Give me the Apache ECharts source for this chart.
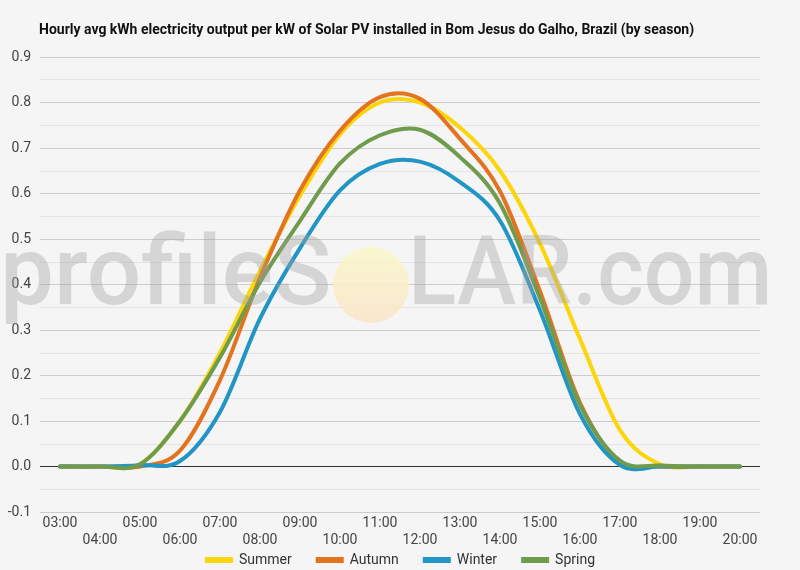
<!DOCTYPE html>
<html>
<head>
<meta charset="utf-8">
<script src="https://cdn.jsdelivr.net/npm/echarts@6/dist/echarts.min.js"></script>
<style>
  html, body { margin: 0; padding: 0; background: #f5f5f5; }
  #chart { width: 800px; height: 570px; }
</style>
</head>
<body>
<div id="chart"></div>
<script>
// hours shown on the x axis
let hours = ['03:00', '04:00', '05:00', '06:00', '07:00', '08:00', '09:00', '10:00', '11:00',
  '12:00', '13:00', '14:00', '15:00', '16:00', '17:00', '18:00', '19:00', '20:00'];

// kWh per kW
let summer = [0, 0, 0.005, 0.10, 0.25, 0.43, 0.595, 0.73, 0.80, 0.80, 0.745, 0.65, 0.49, 0.28, 0.08, 0.005, 0, 0];
let autumn = [0, 0, 0, 0.035, 0.19, 0.415, 0.607, 0.738, 0.812, 0.808, 0.72, 0.605, 0.385, 0.14, 0.01, 0, 0, 0];
let winter = [0, 0, 0.003, 0.012, 0.12, 0.325, 0.48, 0.607, 0.665, 0.67, 0.625, 0.54, 0.343, 0.115, 0.003, 0, 0, 0];
let spring = [0, 0, 0.005, 0.10, 0.24, 0.405, 0.54, 0.666, 0.728, 0.74, 0.68, 0.578, 0.37, 0.135, 0.013, 0.002, 0, 0];

let seasons = ['Summer', 'Autumn', 'Winter', 'Spring'];
let colors = ['#fcd50b', '#e3731f', '#2195c6', '#6f9b4c'];

let myChart = echarts.init(document.getElementById('chart'));

// cardinal (catmull-rom) curve through the points, like the original chart's smoothing
function splineSeries(name, values, color, z) {
  return {
    name: name,
    type: 'custom',
    z: z,
    data: values.map(function (v, i) { return [i, v]; }),
    encode: { x: 0, y: 1 },
    itemStyle: { color: color },
    renderItem: function (params, api) {
      if (params.dataIndex !== 0) return null;
      let pts = values.map(function (v, i) { return api.coord([i, v]); });
      let n = pts.length;
      let d = 'M' + pts[0][0] + ' ' + pts[0][1];
      for (let i = 0; i < n - 1; i++) {
        let p0 = pts[Math.max(i - 1, 0)];
        let p1 = pts[i];
        let p2 = pts[i + 1];
        let p3 = pts[Math.min(i + 2, n - 1)];
        let c1x = p1[0] + (p2[0] - p0[0]) / 6;
        let c1y = p1[1] + (p2[1] - p0[1]) / 6;
        let c2x = p2[0] - (p3[0] - p1[0]) / 6;
        let c2y = p2[1] - (p3[1] - p1[1]) / 6;
        d += ' C' + c1x + ' ' + c1y + ' ' + c2x + ' ' + c2y + ' ' + p2[0] + ' ' + p2[1];
      }
      return {
        type: 'path',
        shape: { pathData: d },
        style: { fill: 'none', stroke: color, lineWidth: 4, lineJoin: 'round', lineCap: 'round' }
      };
    }
  };
}

let wmFill = 'rgba(160,160,160,0.38)';

// split line colours, the one at 0 is black
let gridColors = ['#cccccc', '#333333', '#cccccc', '#cccccc', '#cccccc', '#cccccc',
  '#cccccc', '#cccccc', '#cccccc', '#cccccc', '#cccccc'];

let option = {
  backgroundColor: '#f5f5f5',
  animation: false,
  textStyle: { fontFamily: 'Roboto' },
  title: {
    text: 'Hourly avg kWh electricity output per kW of Solar PV installed in Bom Jesus do Galho, Brazil (by season)',
    left: 34,
    top: 18,
    textStyle: { fontSize: 14, fontWeight: 'bold', color: '#111', fontFamily: 'Roboto' }
  },
  legend: {
    data: seasons,
    bottom: 0,
    padding: [5, 5, 3, 5],
    left: 'center',
    icon: 'rect',
    itemWidth: 28,
    itemHeight: 6,
    itemGap: 24,
    textStyle: { fontSize: 14, color: '#333', padding: [0, 0, 0, 1] }
  },
  grid: { left: 40, right: 40, top: 57, bottom: 58 },
  xAxis: {
    type: 'category',
    data: hours,
    boundaryGap: true,
    axisLine: { show: false },
    axisTick: { show: false },
    axisLabel: {
      interval: 0,
      color: '#444',
      fontSize: 14,
      lineHeight: 17,
      margin: 3,
      formatter: function (v, i) { return i % 2 ? '\n' + v : v; }
    }
  },
  yAxis: {
    type: 'value',
    min: -0.1,
    max: 0.9,
    interval: 0.1,
    axisLabel: {
      color: '#444',
      fontSize: 14,
      margin: 9,
      formatter: function (v) { return v.toFixed(1); }
    },
    splitLine: { lineStyle: { color: gridColors, width: 1 } },
    minorTick: { show: false, splitNumber: 2 },
    minorSplitLine: { show: true, lineStyle: { color: '#e4e4e4', width: 1 } }
  },
  graphic: [
    {
      type: 'circle',
      z: 1,
      shape: { cx: 371, cy: 285, r: 38 },
      style: {
        fill: new echarts.graphic.LinearGradient(0, 0, 0, 1, [
          { offset: 0, color: 'rgba(250,248,200,0.85)' },
          { offset: 1, color: 'rgba(250,228,200,0.85)' }
        ])
      }
    },
    {
      type: 'text',
      z: 100,
      x: 0,
      y: 232,
      style: { text: 'profileS', font: '500 96px Roboto', fill: wmFill }
    },
    {
      type: 'text',
      z: 100,
      x: 408,
      y: 232,
      scaleX: 0.93,
      style: { text: 'LAR.com', font: '500 96px Roboto', fill: wmFill }
    }
  ],
  series: [
    splineSeries('Summer', summer, colors[0], 3),
    splineSeries('Autumn', autumn, colors[1], 4),
    splineSeries('Winter', winter, colors[2], 5),
    splineSeries('Spring', spring, colors[3], 6)
  ]
};

myChart.setOption(option);
</script>
</body>
</html>
